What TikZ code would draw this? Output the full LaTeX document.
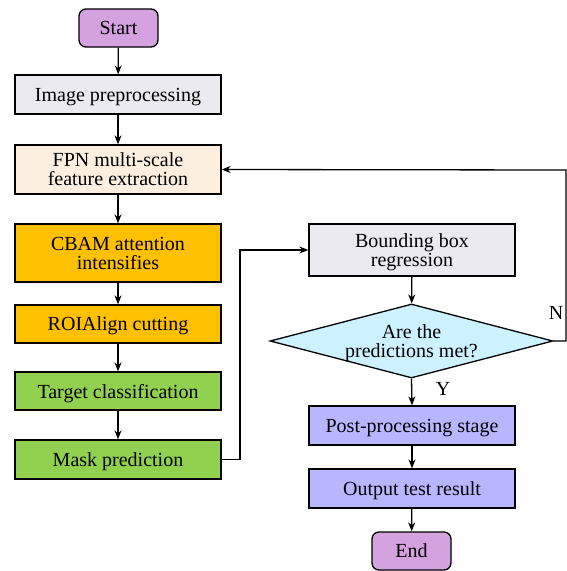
\documentclass[tikz,border=0pt]{standalone}
\usepackage{fontspec}
\setmainfont{Liberation Serif}
\usetikzlibrary{shapes.geometric,arrows.meta}
\definecolor{cpurple}{HTML}{D4A2DE}
\definecolor{cgray}{HTML}{ECEAF1}
\definecolor{cpeach}{HTML}{FDEFDF}
\definecolor{corange}{HTML}{FFC000}
\definecolor{cgreen}{HTML}{92D050}
\definecolor{ccyan}{HTML}{CCF2FF}
\definecolor{clav}{HTML}{B8B6FF}
\begin{document}
\begin{tikzpicture}[x=1pt,y=-1pt,
  every node/.style={font=\fontsize{20}{19}\selectfont, align=center, inner sep=0pt},
  txt/.style={text depth=0pt},
  box/.style={draw, line width=1.3pt, minimum width=206pt, txt},
  term/.style={draw, line width=1.3pt, rounded corners=7pt, minimum width=79pt, minimum height=38pt, fill=cpurple, txt},
  dec/.style={draw, line width=1.3pt, diamond, aspect=3.8, fill=ccyan, minimum width=283pt, minimum height=74pt, txt},
  arr/.style={line width=1.3pt, -{Stealth[length=9pt,width=7pt]}}]
\useasboundingbox (0,0) rectangle (567,571);
\node[term] (start) at (118.5,28) {Start};
\node[box, fill=cgray, minimum height=39pt] (pre) at (118,94.5) {Image preprocessing};
\node[box, fill=cpeach, minimum height=49pt] (fpn) at (118,169.5) {FPN multi-scale\\feature extraction};
\node[box, fill=corange, minimum height=58pt] (cbam) at (118,253) {CBAM attention\\intensifies};
\node[box, fill=corange, minimum height=38pt] (roi) at (118,324) {ROIAlign cutting};
\node[box, fill=cgreen, minimum height=38pt] (tc) at (118,391) {Target classification};
\node[box, fill=cgreen, minimum height=39pt] (mask) at (118,459.5) {Mask prediction};
\node[box, fill=cgray, minimum height=52pt] (bbr) at (412,250) {Bounding box\\regression};
\node[dec] (d) at (411.5,341) {Are the\\predictions met?};
\node[box, fill=clav, minimum height=39pt] (post) at (412,425.5) {Post-processing stage};
\node[box, fill=clav, minimum height=39pt] (out) at (412,488.5) {Output test result};
\node[term] (end) at (411.5,551) {End};
\draw[arr] (start) -- (pre);
\draw[arr] (pre) -- (fpn);
\draw[arr] (fpn) -- (cbam);
\draw[arr] (cbam) -- (roi);
\draw[arr] (roi) -- (tc);
\draw[arr] (tc) -- (mask);
\draw[arr] (mask.east) -- (240,459.5) -- (240,250) -- (bbr.west);
\draw[arr] (bbr) -- (d);
\draw[arr] (d.south) -- (post.north);
\draw[arr] (post) -- (out);
\draw[arr] (out) -- (end);
\draw[arr] (d.east) -- (566,341) -- (566,170) -- (fpn.east);
\node[txt] (nl) at (556,313) {N};
\node[txt] (yl) at (443,389) {Y};
\end{tikzpicture}
\end{document}
